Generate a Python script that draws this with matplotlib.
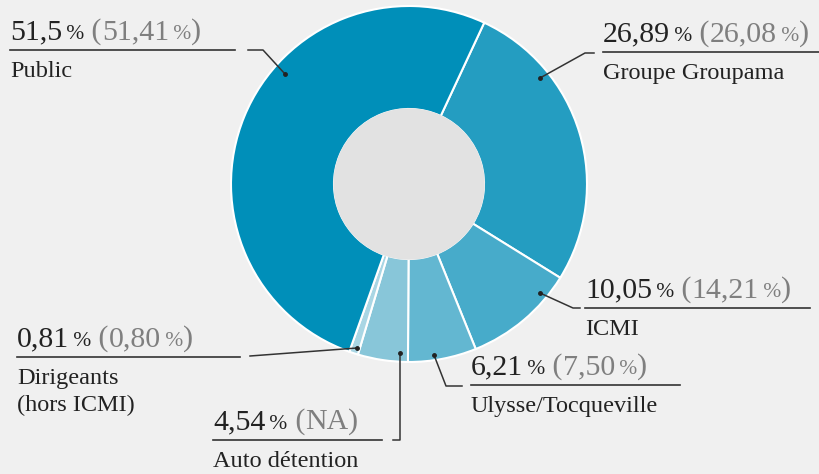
import matplotlib
matplotlib.use('Agg')
import matplotlib.pyplot as plt

W, H = 819, 474

labels = ['Groupe Groupama', 'ICMI', 'Ulysse/Tocqueville', 'Auto détention', 'Dirigeants\n(hors ICMI)', 'Public']
shares = [26.89, 10.05, 6.21, 4.54, 0.81, 51.5]
values_txt = ['26,89', '10,05', '6,21', '4,54', '0,81', '51,5']
previous_txt = ['26,08 %', '14,21 %', '7,50 %', 'NA', '0,80 %', '51,41 %']
colors = ['#249dc1', '#47abca', '#63b7d1', '#88c6d9', '#a9d6e4', '#008fb9']

# label block: text left x, underline y, underline end x (pixels, top-left origin)
blocks = [
    (603, 52, 819),
    (585, 308, 810),
    (471, 385, 680),
    (213, 440, 382),
    (17, 357, 240),
    (10, 50, 235),
]
# leader lines (pixel coords), first point has the dot
leaders = [
    [(540, 78), (585, 53), (594, 53)],
    [(540, 293), (573, 308), (580, 308)],
    [(434, 355), (446, 386), (462, 386)],
    [(400, 353), (400, 440), (393, 440)],
    [(357, 348), (250, 356)],
    [(285, 74), (263, 50), (248, 50)],
]

fig = plt.figure(figsize=(W / 100, H / 100), dpi=100)
fig.patch.set_facecolor('#f0f0f0')
ax = fig.add_axes([0, 0, 1, 1])
ax.set_facecolor('#f0f0f0')

cx, cy, R = 409, H - 184, 178
ax.pie(shares, colors=colors, startangle=65, counterclock=False,
       center=(cx, cy), radius=R, frame=True,
       wedgeprops=dict(width=R - 75, edgecolor='white', linewidth=1.5))
ax.add_patch(plt.Circle((cx, cy), 75, color='#e2e2e2', zorder=3))
ax.set_xlim(0, W)
ax.set_ylim(0, H)
ax.set_aspect('auto')
ax.axis('off')

fam = 'Liberation Serif'
fig.canvas.draw()
rend = fig.canvas.get_renderer()

BIG, SMALL, LAB = 21.5, 15.5, 17.5


def runs(x, y, parts):
    # draw text pieces one after another on the same baseline
    for s, size, col in parts:
        t = ax.text(x, H - y, s, fontsize=size, color=col, family=fam,
                    ha='left', va='baseline')
        bb = t.get_window_extent(renderer=rend)
        x = bb.x1


for i in range(len(labels)):
    x0, uy, x1 = blocks[i]
    ax.plot([x0, x1], [H - uy, H - uy], color='#333333', lw=1.2)
    parts = [(values_txt[i], BIG, '#222222'), ('\u2009%', SMALL, '#222222')]
    prev = previous_txt[i]
    parts.append((' (', BIG, '#7f7f7f'))
    if prev.endswith('%'):
        parts.append((prev[:-2], BIG, '#7f7f7f'))
        parts.append(('\u2009%', SMALL, '#7f7f7f'))
    else:
        parts.append((prev, BIG, '#7f7f7f'))
    parts.append((')', BIG, '#7f7f7f'))
    runs(x0, uy - 11, parts)
    for k, line in enumerate(labels[i].split('\n')):
        ax.text(x0, H - (uy + 27 + 27 * k), line, fontsize=LAB, color='#222222',
                family=fam, ha='left', va='baseline')
    pts = leaders[i]
    ax.plot([p[0] for p in pts], [H - p[1] for p in pts], color='#333333', lw=1.1)
    ax.plot(pts[0][0], H - pts[0][1], 'o', color='#222222', ms=2.5)

fig.savefig('out.png', dpi=100, facecolor=fig.get_facecolor())
